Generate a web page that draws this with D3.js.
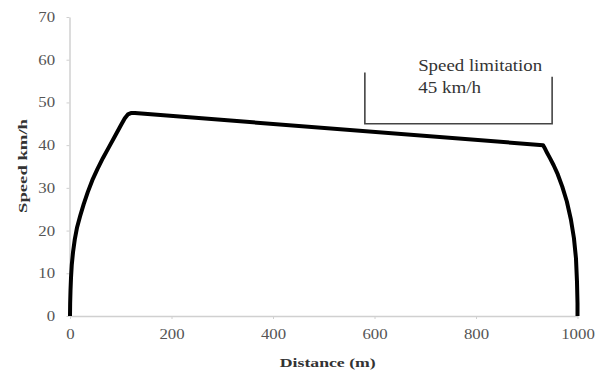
<!DOCTYPE html>
<html>
<head>
<meta charset="utf-8">
<script src="https://cdn.jsdelivr.net/npm/d3@7/dist/d3.min.js"></script>
<style>
  html, body { margin: 0; padding: 0; background: #fff; }
  svg { display: block; }
</style>
</head>
<body>
<svg id="chart" width="608" height="371"></svg>
<script>
// Speed profile along the route: distance (m) vs speed (km/h)
const distance = [0, 0.3, 1, 2, 3.5, 6, 9.5, 14, 20, 27, 35, 44, 54, 65, 77, 89, 100, 108, 114, 120, 128,
                  932, 935, 940, 946, 953, 961, 970, 979, 987, 993, 997, 999, 1000, 1000];
const speed    = [0, 3, 6, 9, 12, 15, 18, 20.8, 23.4, 26.2, 29, 31.8, 34.4, 37, 39.6, 42.2, 44.6, 46.3, 47.2, 47.5, 47.5,
                  40, 39.4, 38.2, 36.9, 35.3, 33.2, 30.3, 26.8, 22.6, 18.2, 13.5, 8, 3, 0];

const xTicks = [0, 200, 400, 600, 800, 1000];
const yTicks = [0, 10, 20, 30, 40, 50, 60, 70];

// Speed limitation zone
const limitValue = 45;
const limitStart = 581;
const limitEnd = 950;
const limitTopStart = 57;
const limitTopEnd = 56;
const limitLines = ["Speed limitation", "45 km/h"];

const serif = "'Liberation Serif', 'Times New Roman', serif";
const svg = d3.select("#chart");
const x = d3.scaleLinear().domain([0, 1000]).range([70, 577.5]);
const y = d3.scaleLinear().domain([0, 70]).range([316, 17]);

const axisColor = "#d0d0d0";
const labelColor = "#555";

// x axis
const xAxis = svg.append("g")
  .attr("transform", `translate(0,${y(0)})`)
  .call(d3.axisBottom(x).tickValues(xTicks).tickFormat(d3.format("d"))
    .tickSize(3).tickSizeOuter(0).tickPadding(10));
xAxis.attr("font-family", serif);
xAxis.select(".domain").attr("stroke", axisColor).attr("stroke-width", 1.5);
xAxis.selectAll(".tick line").attr("stroke", axisColor);
xAxis.selectAll(".tick text")
  .attr("fill", labelColor)
  .attr("font-family", serif)
  .attr("font-size", 14)
  .attr("transform", "scale(1.2,1)")
  .attr("x", 0);

// y axis
const yAxis = svg.append("g")
  .attr("transform", `translate(${x(0) - 0.5},0)`)
  .call(d3.axisLeft(y).tickValues(yTicks).tickSize(3).tickSizeOuter(0).tickPadding(0));
yAxis.attr("font-family", serif);
yAxis.select(".domain").attr("stroke", axisColor).attr("stroke-width", 1.5);
yAxis.selectAll(".tick line").attr("stroke", axisColor);
yAxis.selectAll(".tick text")
  .attr("fill", labelColor)
  .attr("font-family", serif)
  .attr("font-size", 14)
  .attr("x", -12)
  .attr("transform", "scale(1.2,1)");

// axis titles
svg.append("text")
  .attr("x", (x(0) + x(1000)) / 2 + 4)
  .attr("y", 367)
  .attr("text-anchor", "middle")
  .attr("font-family", serif)
  .attr("font-size", 13.5)
  .attr("font-weight", "bold")
  .attr("fill", "#333")
  .attr("textLength", 96)
  .attr("lengthAdjust", "spacingAndGlyphs")
  .text("Distance (m)");

svg.append("text")
  .attr("transform", "translate(27,166) rotate(-90)")
  .attr("text-anchor", "middle")
  .attr("font-family", serif)
  .attr("font-size", 13)
  .attr("font-weight", "bold")
  .attr("fill", "#333")
  .attr("textLength", 94)
  .attr("lengthAdjust", "spacingAndGlyphs")
  .text("Speed km/h");

// speed limitation bracket
const bracket = [
  [limitStart, limitTopStart], [limitStart, limitValue],
  [limitEnd, limitValue], [limitEnd, limitTopEnd]
];
svg.append("path")
  .attr("d", d3.line().x(d => x(d[0])).y(d => y(d[1]))(bracket))
  .attr("fill", "none")
  .attr("stroke", "#444")
  .attr("stroke-width", 1.6);

svg.append("text")
  .attr("x", x(686))
  .attr("y", 71)
  .attr("font-family", serif)
  .attr("font-size", 16)
  .attr("fill", "#333")
  .attr("textLength", 124)
  .attr("lengthAdjust", "spacingAndGlyphs")
  .text(limitLines[0]);
svg.append("text")
  .attr("x", x(686))
  .attr("y", 93)
  .attr("font-family", serif)
  .attr("font-size", 16)
  .attr("fill", "#333")
  .attr("textLength", 63)
  .attr("lengthAdjust", "spacingAndGlyphs")
  .text(limitLines[1]);

// speed curve
const pts = distance.map((d, i) => [d, speed[i]]);
svg.append("path")
  .attr("d", d3.line().x(d => x(d[0])).y(d => y(d[1]))(pts))
  .attr("fill", "none")
  .attr("stroke", "#000")
  .attr("stroke-width", 4)
  .attr("stroke-linejoin", "round");
</script>
</body>
</html>
